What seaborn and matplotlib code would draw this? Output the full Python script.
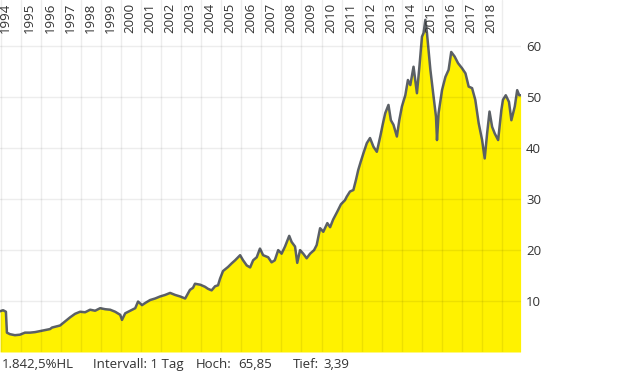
import numpy as np
import pandas as pd
import matplotlib
matplotlib.use("Agg")
import matplotlib.pyplot as plt
import matplotlib.transforms as mtransforms
import seaborn as sns

# price history (decimal year, price)
years = [1993.97, 1994.12, 1994.26, 1994.31, 1994.46, 1994.71, 1994.96, 1995.21, 1995.46,
         1995.71, 1995.96, 1996.21, 1996.46, 1996.56, 1996.96, 1997.21, 1997.46, 1997.71,
         1997.96, 1998.21, 1998.46, 1998.71, 1998.96, 1999.21, 1999.46, 1999.71, 1999.96,
         2000.05, 2000.21, 2000.46, 2000.71, 2000.85, 2001.05, 2001.20, 2001.45, 2001.70,
         2001.95, 2002.20, 2002.45, 2002.70, 2002.95, 2003.20, 2003.44, 2003.59, 2003.69,
         2003.96, 2004.19, 2004.34, 2004.52, 2004.69, 2004.84, 2004.94, 2005.09, 2005.34,
         2005.52, 2005.69, 2005.94, 2006.09, 2006.27, 2006.44, 2006.59, 2006.77, 2006.93,
         2007.09, 2007.34, 2007.51, 2007.67, 2007.84, 2008.01, 2008.18, 2008.39, 2008.51,
         2008.68, 2008.79, 2008.93, 2009.09, 2009.26, 2009.43, 2009.63, 2009.76, 2009.93,
         2010.09, 2010.29, 2010.43, 2010.58, 2010.78, 2010.97, 2011.17, 2011.26, 2011.42,
         2011.59, 2011.72, 2011.83, 2011.96, 2012.09, 2012.26, 2012.42, 2012.59, 2012.76,
         2012.93, 2013.05, 2013.18, 2013.34, 2013.46, 2013.59, 2013.76, 2013.88, 2014.01,
         2014.18, 2014.31, 2014.43, 2014.59, 2014.76, 2014.89, 2015.01, 2015.09, 2015.18,
         2015.26, 2015.34, 2015.43, 2015.51, 2015.59, 2015.71, 2015.76, 2015.84, 2016.01,
         2016.18, 2016.34, 2016.47, 2016.64, 2016.81, 2017.01, 2017.18, 2017.34, 2017.51,
         2017.67, 2017.84, 2018.01, 2018.14, 2018.26, 2018.38, 2018.51, 2018.64, 2018.81,
         2018.97, 2019.05, 2019.19, 2019.35, 2019.47, 2019.64, 2019.76, 2019.86, 2019.93]
prices = [8.0, 8.2, 7.9, 3.8, 3.5, 3.3, 3.4, 3.8, 3.8,
          3.9, 4.1, 4.3, 4.5, 4.8, 5.2, 6.0, 6.8, 7.5,
          7.9, 7.8, 8.3, 8.1, 8.6, 8.4, 8.3, 7.9, 7.3,
          6.3, 7.6, 8.1, 8.6, 9.9, 9.2, 9.6, 10.2, 10.5,
          10.9, 11.2, 11.6, 11.2, 10.9, 10.5, 12.2, 12.6, 13.4,
          13.2, 12.8, 12.4, 12.1, 12.9, 13.1, 14.4, 15.9, 16.7,
          17.4, 18.0, 19.0, 18.0, 17.0, 16.6, 18.0, 18.6, 20.3,
          19.0, 18.6, 17.6, 18.0, 20.0, 19.3, 20.7, 22.8, 21.6,
          20.7, 17.5, 20.0, 19.3, 18.4, 19.3, 20.0, 21.0, 24.3,
          23.6, 25.3, 24.5, 26.0, 27.5, 29.0, 29.8, 30.5, 31.5,
          31.8, 33.8, 35.7, 37.4, 39.0, 41.0, 42.0, 40.3, 39.3,
          42.3, 44.6, 46.9, 48.5, 45.5, 44.6, 42.3, 45.5, 48.2,
          50.4, 53.4, 52.4, 56.0, 50.8, 56.3, 61.9, 62.6, 65.2,
          62.6, 59.3, 55.4, 52.7, 50.1, 46.2, 41.6, 46.9, 51.4,
          54.0, 55.4, 58.9, 58.0, 56.7, 55.7, 54.7, 52.1, 51.8,
          49.5, 44.9, 41.6, 38.0, 42.9, 47.2, 44.2, 42.9, 41.6,
          47.5, 49.5, 50.4, 49.1, 45.5, 48.2, 51.4, 50.4, 50.4]

grid_years = list(range(1994, 2020))
label_years = list(range(1994, 2019))
y_ticks = [10, 20, 30, 40, 50, 60]
footer = [("1.842,5%HL", 2), ("Intervall: 1 Tag", 93), ("Hoch:", 196),
          ("65,85", 238), ("Tief:", 293), ("3,39", 323)]

df = pd.DataFrame({"year": years, "price": prices})

sns.set_style("white")
plt.rcParams["font.family"] = ["Open Sans", "DejaVu Sans"]
text_color = "#333333"

fig = plt.figure(figsize=(6.2, 3.72), dpi=100)
ax = fig.add_axes([0, 20 / 372, 521 / 620, 352 / 372])

ax.fill_between(df["year"], df["price"], 0, color="#fff200", lw=0, zorder=1)
sns.lineplot(data=df, x="year", y="price", ax=ax, color="#5b6066",
             linewidth=1.8, zorder=2)

ax.set_xlim(1993.965, 2019.95)
ax.set_ylim(0, 69.1)
for s in ax.spines.values():
    s.set_visible(False)

# grid over the fill
for yr in grid_years:
    ax.axvline(yr, color="black", alpha=0.07, lw=1, zorder=3)
for v in y_ticks:
    ax.axhline(v, color="black", alpha=0.07, lw=1, zorder=3)

ax.set_xticks([])
ax.set_xlabel("")
ax.set_ylabel("")
ax.yaxis.tick_right()
ax.set_yticks(y_ticks)
ax.set_yticklabels([str(v) for v in y_ticks])
ax.tick_params(axis="y", length=0, pad=3.6, labelsize=9.5, labelcolor=text_color)

# year labels along the top, inside the plot
trans = mtransforms.blended_transform_factory(ax.transData, ax.transAxes)
off = mtransforms.ScaledTranslation(0, -3 / 100, fig.dpi_scale_trans)
for yr in label_years:
    xpos = yr + 0.45 if yr > 1994 else yr + 0.22
    ax.text(xpos, 1.0, str(yr), rotation=90, ha="center", va="top",
            fontsize=9.5, color=text_color, transform=trans + off)

for txt, px in footer:
    fig.text(px / 620, 4 / 372, txt, ha="left", va="baseline",
             fontsize=9.5, color=text_color)

fig.savefig("out.png", dpi=100)
